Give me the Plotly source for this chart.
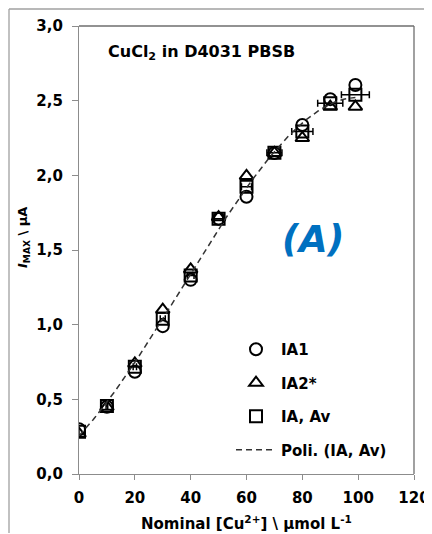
import numpy as np
import plotly.graph_objects as go

# ---- data ----
conc = [0, 10, 20, 30, 40, 50, 60, 70, 80, 90, 99]
ia1 = [0.30, 0.45, 0.685, 0.99, 1.30, 1.71, 1.857, 2.15, 2.337, 2.51, 2.605]
ia2 = [0.27, 0.45, 0.74, 1.10, 1.37, 1.72, 1.996, 2.15, 2.25, 2.46, 2.46]
ia_av = [0.283, 0.455, 0.719, 1.04, 1.33, 1.71, 1.924, 2.152, 2.293, 2.483, 2.54]
conc_err = [0, 0.3, 0.6, 0.9, 1.2, 1.5, 1.8, 2.7, 3.8, 4.5, 5.0]
y_ticks = [0.0, 0.5, 1.0, 1.5, 2.0, 2.5, 3.0]
x_ticks = [0, 20, 40, 60, 80, 100, 120]

# polynomial trendline (order 3) of the average series, as in the spreadsheet
coef = np.polyfit(conc, ia_av, 3)
xfit = np.linspace(min(conc), max(conc), 120)
yfit = np.polyval(coef, xfit)

FONT = "DejaVu Sans"
OFF = 8                      # page offset of the figure (body margin)
W, H = 432 - OFF, 534 - OFF
# plot area in page pixels: x 79..414, y 26..474
L, R, T, B = 79 - OFF, 432 - 414, 26 - OFF, 534 - 474
pw, ph = W - L - R, H - T - B

def px(xp):  # page pixel -> paper x
    return (xp - OFF - L) / pw

def py(yp):  # page pixel -> paper y
    return (H - B - (yp - OFF)) / ph

fig = go.Figure()
mk = dict(color="black", size=12, line=dict(color="black", width=2))
fig.add_trace(go.Scatter(x=conc, y=ia1, mode="markers", name="IA1", legendgroup="a",
                         marker=dict(symbol="circle-open", **mk)))
fig.add_trace(go.Scatter(x=conc, y=ia2, mode="markers", name="IA2*", legendgroup="b",
                         marker=dict(symbol="triangle-up-open", **mk)))
fig.add_trace(go.Scatter(x=conc, y=ia_av, mode="markers", name="IA, Av", legendgroup="c",
                         marker=dict(symbol="square-open", **mk),
                         error_x=dict(type="data", array=conc_err, color="black",
                                      thickness=1.5, width=3.5)))
fig.add_trace(go.Scatter(x=xfit, y=yfit, mode="lines", name="Poli. (IA, Av)", legendgroup="d",
                         line=dict(color="#333333", width=1.5, dash="6px,4px")))

axis_col = "#8c8c8c"
fig.update_xaxes(range=[0, 120], tickvals=x_ticks, ticks="outside", ticklen=5,
                 tickcolor=axis_col, showline=True, linecolor=axis_col, linewidth=1.3,
                 showgrid=False, zeroline=False, ticklabelstandoff=5, automargin=False,
                 tickfont=dict(family=FONT, size=15, color="black", weight="bold"))
fig.update_yaxes(range=[0, 3.0], tickvals=y_ticks, tickformat=".1f", ticks="outside",
                 ticklen=6, tickcolor=axis_col, showline=True, linecolor=axis_col,
                 linewidth=1.3, showgrid=False, zeroline=False, ticklabelstandoff=6,
                 automargin=False,
                 tickfont=dict(family=FONT, size=15, color="black", weight="bold"))

shapes = [
    # plot area top and right borders
    dict(type="line", xref="paper", yref="paper", x0=0, x1=1, y0=1, y1=1,
         line=dict(color="#6e6e6e", width=1.3)),
    dict(type="line", xref="paper", yref="paper", x0=1, x1=1, y0=0, y1=1,
         line=dict(color="#6e6e6e", width=1.3)),
    # outer chart border (left and top visible)
    dict(type="line", xref="paper", yref="paper", x0=px(9), x1=px(9), y0=py(533), y1=py(9),
         line=dict(color="#a0a0a0", width=1.3)),
    dict(type="line", xref="paper", yref="paper", x0=px(9), x1=px(431), y0=py(9), y1=py(9),
         line=dict(color="#a0a0a0", width=1.3)),
]

annotations = [
    dict(text="<b>CuCl<sub>2</sub> in D4031 PBSB</b>", xref="paper", yref="paper",
         x=px(106), y=py(53), xanchor="left", yanchor="middle", showarrow=False,
         font=dict(family=FONT, size=16, color="black")),
    dict(text="<b><i>(A)</i></b>", xref="paper", yref="paper",
         x=px(313), y=py(239), xanchor="center", yanchor="middle", showarrow=False,
         font=dict(family=FONT, size=37, color="#0070C0")),
    dict(text="<b><i>I</i><sub>MAX</sub> \\ µA</b>", xref="paper", yref="paper",
         x=px(23), y=py(238), xanchor="center", yanchor="middle", textangle=-90,
         showarrow=False, font=dict(family=FONT, size=13, color="black")),
    dict(text="<b>Nominal [Cu<sup>2+</sup>] \\ µmol L<sup>-1</sup></b>", xref="paper",
         yref="paper", x=px(246), y=py(523), xanchor="center", yanchor="middle",
         showarrow=False, font=dict(family=FONT, size=15, color="black")),
]

fig.update_layout(
    width=W, height=H,
    autosize=False,
    margin=dict(l=L, r=R, t=T, b=B, autoexpand=False),
    paper_bgcolor="white", plot_bgcolor="white",
    separators=",.",
    showlegend=True,
    legend=dict(x=px(231), y=py(333), xanchor="left", yanchor="top",
                bgcolor="rgba(0,0,0,0)", tracegroupgap=11, itemwidth=40,
                font=dict(family=FONT, size=15, color="black", weight="bold")),
    shapes=shapes,
    annotations=annotations,
)

fig.write_html("out.html")
